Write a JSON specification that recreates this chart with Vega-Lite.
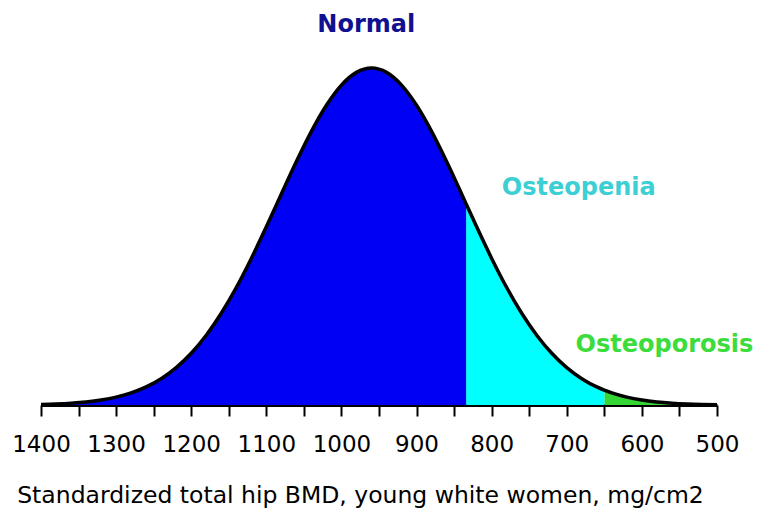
{
  "$schema": "https://vega.github.io/schema/vega-lite/v6.json",
  "width": 676,
  "height": 400,
  "autosize": "none",
  "padding": {"left": 41, "top": 5, "right": 44, "bottom": 105},
  "background": "white",
  "config": {"view": {"stroke": null}},
  "datasets": {
    "curve": [
      {"bmd": 500, "density": 0.001027, "region": "Osteoporosis"},
      {"bmd": 520, "density": 0.001845, "region": "Osteoporosis"},
      {"bmd": 540, "density": 0.003227, "region": "Osteoporosis"},
      {"bmd": 560, "density": 0.005499, "region": "Osteoporosis"},
      {"bmd": 580, "density": 0.009132, "region": "Osteoporosis"},
      {"bmd": 600, "density": 0.01478, "region": "Osteoporosis"},
      {"bmd": 620, "density": 0.02331, "region": "Osteoporosis"},
      {"bmd": 640, "density": 0.03579, "region": "Osteoporosis"},
      {"bmd": 650, "density": 0.04394, "region": "Osteoporosis"},
      {"bmd": 650, "density": 0.04394, "region": "Osteopenia"},
      {"bmd": 660, "density": 0.05357, "region": "Osteopenia"},
      {"bmd": 680, "density": 0.07817, "region": "Osteopenia"},
      {"bmd": 700, "density": 0.1110, "region": "Osteopenia"},
      {"bmd": 720, "density": 0.1537, "region": "Osteopenia"},
      {"bmd": 740, "density": 0.2072, "region": "Osteopenia"},
      {"bmd": 760, "density": 0.2723, "region": "Osteopenia"},
      {"bmd": 780, "density": 0.3486, "region": "Osteopenia"},
      {"bmd": 800, "density": 0.4350, "region": "Osteopenia"},
      {"bmd": 820, "density": 0.5287, "region": "Osteopenia"},
      {"bmd": 834, "density": 0.5967, "region": "Osteopenia"},
      {"bmd": 834, "density": 0.5967, "region": "Normal"},
      {"bmd": 840, "density": 0.6261, "region": "Normal"},
      {"bmd": 860, "density": 0.7224, "region": "Normal"},
      {"bmd": 880, "density": 0.8121, "region": "Normal"},
      {"bmd": 900, "density": 0.8895, "region": "Normal"},
      {"bmd": 920, "density": 0.9493, "region": "Normal"},
      {"bmd": 940, "density": 0.9871, "region": "Normal"},
      {"bmd": 960, "density": 1.0, "region": "Normal"},
      {"bmd": 980, "density": 0.9871, "region": "Normal"},
      {"bmd": 1000, "density": 0.9493, "region": "Normal"},
      {"bmd": 1020, "density": 0.8895, "region": "Normal"},
      {"bmd": 1040, "density": 0.8121, "region": "Normal"},
      {"bmd": 1060, "density": 0.7224, "region": "Normal"},
      {"bmd": 1080, "density": 0.6261, "region": "Normal"},
      {"bmd": 1100, "density": 0.5287, "region": "Normal"},
      {"bmd": 1120, "density": 0.4350, "region": "Normal"},
      {"bmd": 1140, "density": 0.3486, "region": "Normal"},
      {"bmd": 1160, "density": 0.2723, "region": "Normal"},
      {"bmd": 1180, "density": 0.2072, "region": "Normal"},
      {"bmd": 1200, "density": 0.1537, "region": "Normal"},
      {"bmd": 1220, "density": 0.1110, "region": "Normal"},
      {"bmd": 1240, "density": 0.07817, "region": "Normal"},
      {"bmd": 1260, "density": 0.05357, "region": "Normal"},
      {"bmd": 1280, "density": 0.03579, "region": "Normal"},
      {"bmd": 1300, "density": 0.02331, "region": "Normal"},
      {"bmd": 1320, "density": 0.01478, "region": "Normal"},
      {"bmd": 1340, "density": 0.009132, "region": "Normal"},
      {"bmd": 1360, "density": 0.005499, "region": "Normal"},
      {"bmd": 1380, "density": 0.003227, "region": "Normal"},
      {"bmd": 1400, "density": 0.001845, "region": "Normal"}
    ],
    "labels": [
      {"label": "Normal", "bmd": 967, "density": 1.128},
      {"label": "Osteopenia", "bmd": 684, "density": 0.644},
      {"label": "Osteoporosis", "bmd": 570, "density": 0.178}
    ]
  },
  "encoding": {
    "x": {
      "field": "bmd",
      "type": "quantitative",
      "scale": {"domain": [500, 1400], "reverse": true, "nice": false, "zero": false},
      "axis": {
        "title": "Standardized total hip BMD, young white women, mg/cm2",
        "values": [500, 550, 600, 650, 700, 750, 800, 850, 900, 950, 1000, 1050, 1100, 1150, 1200, 1250, 1300, 1350, 1400],
        "labelExpr": "datum.value % 100 === 0 ? datum.label : ''",
        "format": "d",
        "grid": false,
        "domainColor": "black",
        "domainWidth": 3,
        "tickColor": "black",
        "tickWidth": 2,
        "tickSize": 11,
        "labelFont": "DejaVu Sans",
        "labelFontSize": 23,
        "labelColor": "black",
        "labelPadding": 17,
        "labelOverlap": false,
        "labelFlush": false,
        "titleFont": "DejaVu Sans",
        "titleFontSize": 23.5,
        "titleFontWeight": "normal",
        "titleColor": "black",
        "titlePadding": 27,
        "titleX": 319
      }
    },
    "y": {
      "field": "density",
      "type": "quantitative",
      "scale": {"domain": [0, 1.187], "nice": false},
      "axis": null
    }
  },
  "resolve": {"scale": {"color": "independent"}},
  "layer": [
    {
      "data": {"name": "curve"},
      "mark": {"type": "area", "interpolate": "monotone"},
      "encoding": {
        "color": {
          "field": "region",
          "type": "nominal",
          "scale": {"domain": ["Normal", "Osteopenia", "Osteoporosis"], "range": ["#0000F5", "#00FFFF", "#33D633"]},
          "legend": null
        },
        "y": {"field": "density", "type": "quantitative", "stack": null}
      }
    },
    {
      "data": {"name": "curve"},
      "mark": {"type": "line", "interpolate": "monotone", "color": "black", "strokeWidth": 3.5},
      "encoding": {}
    },
    {
      "data": {"name": "labels"},
      "mark": {"type": "text", "font": "DejaVu Sans", "fontWeight": "bold", "fontSize": 24, "align": "center", "baseline": "middle"},
      "encoding": {
        "text": {"field": "label"},
        "color": {
          "field": "label",
          "type": "nominal",
          "scale": {"domain": ["Normal", "Osteopenia", "Osteoporosis"], "range": ["#101090", "#3ECFD4", "#3CDC3C"]},
          "legend": null
        }
      }
    }
  ]
}
